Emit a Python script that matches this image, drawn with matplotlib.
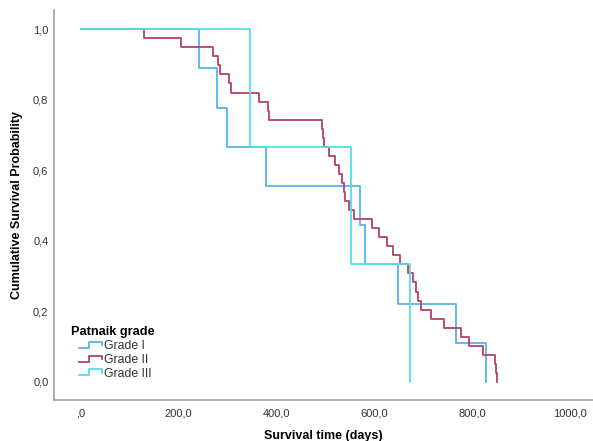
import numpy as np
import matplotlib
matplotlib.use('Agg')
import matplotlib.pyplot as plt
from matplotlib.lines import Line2D
from matplotlib.legend_handler import HandlerLine2D
from matplotlib.ticker import FuncFormatter

plt.rcParams['font.family'] = ['Liberation Sans', 'DejaVu Sans']

# event times (days)
grade1_times = [241, 278, 298, 378, 571, 581, 648, 766, 828]
grade2_times = [130, 204, 271, 280, 284, 303, 307, 364, 382, 385,
                492, 494, 497, 508, 519, 528, 533, 538, 539, 549,
                559, 596, 610, 625, 639, 652, 669, 680, 685, 690,
                695, 715, 742, 777, 794, 823, 846, 848, 851]
grade3_times = [346, 552, 673]

groups = ['Grade I', 'Grade II', 'Grade III']
colors = ['#55B4EE', '#B3406C', '#55DEE3']

x_ticks = [0, 200, 400, 600, 800, 1000]
y_ticks = [0.0, 0.2, 0.4, 0.6, 0.8, 1.0]


def km_steps(times):
    n = len(times)
    t = [0] + list(times)
    s = [1.0] + [1.0 - (k + 1) / n for k in range(n)]
    return np.array(t), np.array(s)


class StepHandler(HandlerLine2D):
    # little step icon like the SPSS legend
    def create_artists(self, legend, orig_handle, xdescent, ydescent,
                       width, height, fontsize, trans):
        x0 = -xdescent + 0.25 * width
        w = 0.75 * width
        y0 = -ydescent
        xs = [x0, x0 + 0.45 * w, x0 + 0.45 * w, x0 + w, x0 + w]
        ys = [y0 + 0.15 * height, y0 + 0.15 * height, y0 + 0.85 * height,
              y0 + 0.85 * height, y0 + 0.45 * height]
        line = Line2D(xs, ys, color=orig_handle.get_color(),
                      lw=orig_handle.get_linewidth(), transform=trans)
        return [line]


fig = plt.figure(figsize=(5.93, 4.41), dpi=100)
ax = fig.add_axes([0.091, 0.093, 0.909, 0.884])

handles = []
for times, name, c in zip([grade1_times, grade2_times, grade3_times], groups, colors):
    t, s = km_steps(times)
    ln, = ax.step(t, s, where='post', color=c, lw=1.3, label=name)
    handles.append(ln)

ax.set_xlim(-55, 1047)
ax.set_ylim(-0.051, 1.054)
ax.set_xticks(x_ticks)
ax.set_yticks(y_ticks)

ax.yaxis.set_major_formatter(FuncFormatter(lambda v, p: f'{v:.1f}'.replace('.', ',')))
ax.xaxis.set_major_formatter(FuncFormatter(lambda v, p: ',0' if v == 0 else f'{v:.1f}'.replace('.', ',')))
ax.tick_params(length=0, labelsize=8, labelcolor='#333333')
ax.tick_params(axis='y', pad=4)
ax.tick_params(axis='x', pad=6)

for side in ['top', 'right']:
    ax.spines[side].set_visible(False)
for side in ['left', 'bottom']:
    ax.spines[side].set_color('#9a9a9a')
    ax.spines[side].set_linewidth(1.1)

ax.set_ylabel('Cumulative Survival Probability', fontsize=9, fontweight='bold')
ax.set_xlabel('Survival time (days)', fontsize=9, fontweight='bold')
ax.yaxis.set_label_coords(-0.057, 0.5)
ax.xaxis.set_label_coords(0.5, -0.078)

leg = ax.legend(handles=handles, labels=groups, title='Patnaik grade',
                loc='lower left', bbox_to_anchor=(0.015, 0.03),
                frameon=False, fontsize=8.8, handlelength=2.6,
                handletextpad=0.15, labelspacing=0.15, borderpad=0.2,
                handler_map={Line2D: StepHandler()},
                title_fontproperties={'weight': 'bold', 'size': 9.2})
leg._legend_box.align = 'left'
for txt in leg.get_texts():
    txt.set_color('#333333')

fig.savefig('out.png', dpi=100)
